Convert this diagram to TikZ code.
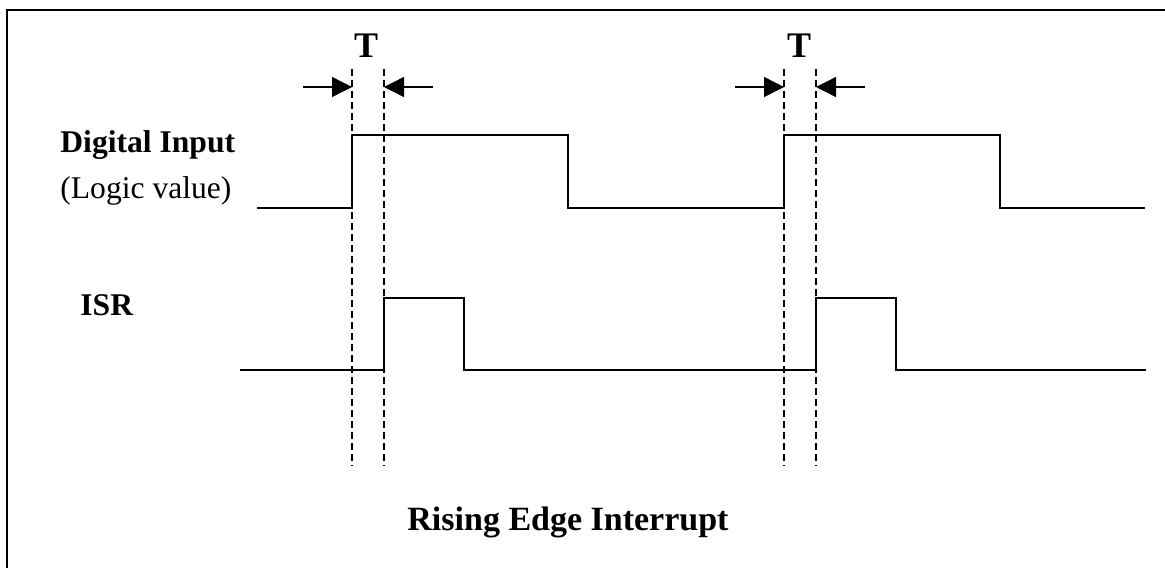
\documentclass[tikz,border=0pt]{standalone}
\usepackage{fontspec}
\setmainfont{Liberation Serif}
\usetikzlibrary{arrows.meta,positioning}

\begin{document}
\begin{tikzpicture}[
  x=0.5pt, y=-0.5pt,
  signal/.style={line width=1pt, line join=miter},
  guide/.style={line width=0.8pt, dash pattern=on 3.5pt off 2pt},
  marker/.style={-{Triangle[length=10pt,width=10pt]}, line width=0.7pt},
  title/.style={font=\fontsize{15.8}{19}\selectfont\bfseries, inner sep=0pt},
  plain/.style={font=\fontsize{15.8}{19}\selectfont, inner sep=0pt},
  period/.style={font=\fontsize{18}{20}\selectfont\bfseries, inner sep=0pt}
]
  \useasboundingbox (0,0) rectangle (1165,568);
  \draw[line width=0.8pt] (7,568) -- (7,10) -- (1165,10);

  % labels
  \node[title, anchor=base west] (din)   at (60,152)  {Digital Input};
  \node[plain, anchor=base west] (logic) at (60,198)  {(Logic value)};
  \node[title, anchor=base west] (isr)   at (80,315)  {ISR};
  \node[title, font=\fontsize{17}{20}\selectfont\bfseries, anchor=base] (caption) at (568,530) {Rising Edge Interrupt};
  \node[period, anchor=base] (tone) at (366,57) {T};
  \node[period, anchor=base] (ttwo) at (799,57) {T};

  % guide lines
  \coordinate (g1top) at (352,69);  \coordinate (g1bot) at (352,466);
  \coordinate (g2top) at (384,69);  \coordinate (g2bot) at (384,466);
  \coordinate (g3top) at (784,69);  \coordinate (g3bot) at (784,466);
  \coordinate (g4top) at (816,69);  \coordinate (g4bot) at (816,466);
  \draw[guide] (g1top) -- (g1bot);
  \draw[guide] (g2top) -- (g2bot);
  \draw[guide] (g3top) -- (g3bot);
  \draw[guide] (g4top) -- (g4bot);

  % T markers
  \coordinate (m1) at (303,87);  \coordinate (m1tip) at (352,87);
  \coordinate (m2) at (433,87);  \coordinate (m2tip) at (384,87);
  \coordinate (m3) at (735,87);  \coordinate (m3tip) at (784,87);
  \coordinate (m4) at (865,87);  \coordinate (m4tip) at (816,87);
  \draw[marker] (m1) -- (m1tip);
  \draw[marker] (m2) -- (m2tip);
  \draw[marker] (m3) -- (m3tip);
  \draw[marker] (m4) -- (m4tip);

  % signals
  \draw[signal] (257,208) -- (352,208) -- (352,135) -- (568,135) -- (568,208)
    -- (784,208) -- (784,135) -- (1000,135) -- (1000,208) -- (1145,208);
  \draw[signal] (240,370) -- (384,370) -- (384,298) -- (464,298) -- (464,370)
    -- (816,370) -- (816,298) -- (896,298) -- (896,370) -- (1146,370);
\end{tikzpicture}
\end{document}
